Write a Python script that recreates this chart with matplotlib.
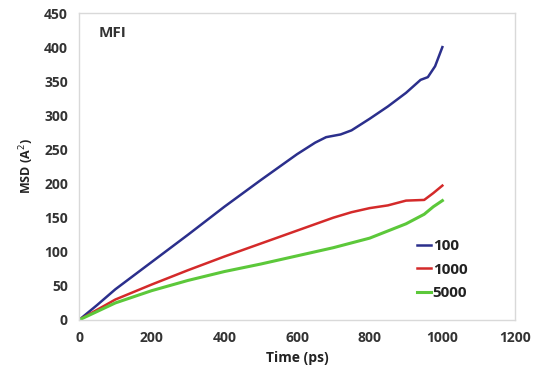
import matplotlib.pyplot as plt

# MSD curves for MFI at three loadings
t_100 = [0, 50, 100, 200, 300, 400, 500, 600, 650, 680, 720, 750, 800, 850, 900, 940, 960, 980, 1000]
msd_100 = [0, 22, 45, 85, 125, 166, 205, 243, 260, 268, 272, 278, 295, 313, 333, 352, 356, 372, 400]

t_1000 = [0, 100, 200, 300, 400, 500, 600, 700, 750, 800, 850, 900, 950, 975, 1000]
msd_1000 = [0, 30, 52, 73, 93, 112, 131, 150, 158, 164, 168, 175, 176, 186, 197]

t_5000 = [0, 100, 200, 300, 400, 500, 600, 700, 800, 900, 950, 975, 1000]
msd_5000 = [0, 25, 43, 58, 71, 82, 94, 106, 120, 141, 155, 166, 175]

plt.rcParams['font.family'] = ['Open Sans', 'DejaVu Sans']

fig = plt.figure(figsize=(5.35, 3.75), dpi=100)
ax = fig.add_axes([0.1477, 0.1467, 0.815, 0.8186])

ax.plot(t_100, msd_100, color='#2b2f8c', lw=1.8, label='100')
ax.plot(t_1000, msd_1000, color='#d42a2a', lw=1.8, label='1000')
ax.plot(t_5000, msd_5000, color='#5cc83a', lw=2.2, label='5000')

ax.set_xlim(0, 1200)
ax.set_ylim(0, 450)
ax.set_xticks(range(0, 1201, 200))
ax.set_yticks(range(0, 451, 50))
ax.tick_params(length=0, labelsize=10, labelcolor='#333333', pad=8)
for lbl in ax.get_xticklabels() + ax.get_yticklabels():
    lbl.set_fontweight('bold')
for s in ax.spines.values():
    s.set_color('#d9d9d9')
    s.set_linewidth(1)

ax.set_xlabel('Time (ps)', fontsize=10, fontweight='bold', color='#222222', labelpad=4)
ax.set_ylabel('MSD (A$^2$)', fontsize=9, fontweight='bold', color='#222222', labelpad=6)
ax.text(0.045, 0.935, 'MFI', transform=ax.transAxes, fontsize=11, fontweight='bold',
        color='#333333', va='center')

leg = ax.legend(loc='lower right', bbox_to_anchor=(0.915, 0.03), frameon=False,
                handlelength=0.9, handletextpad=0.1, labelspacing=0.62, fontsize=11,
                borderpad=0.2)
for txt in leg.get_texts():
    txt.set_fontweight('bold')
    txt.set_color('#222222')

fig.savefig('out.png', dpi=100)
